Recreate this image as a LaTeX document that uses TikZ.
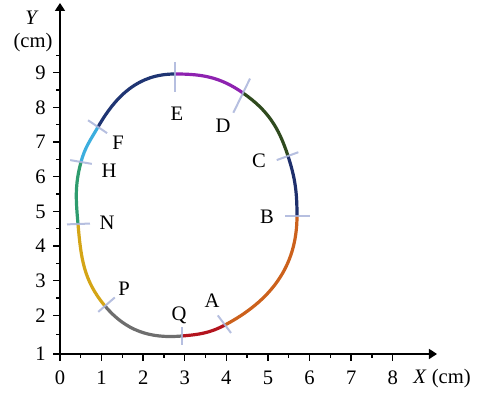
\documentclass[tikz,border=0pt]{standalone}
\usepackage{fontspec}
\setmainfont{Liberation Serif}
\usetikzlibrary{arrows.meta}
\definecolor{cQA}{HTML}{B3141E}
\definecolor{cAB}{HTML}{CC611C}
\definecolor{cBC}{HTML}{1E2F6C}
\definecolor{cCD}{HTML}{2F4A1E}
\definecolor{cDE}{HTML}{8E22B0}
\definecolor{cEF}{HTML}{1F3573}
\definecolor{cFH}{HTML}{3CAEDE}
\definecolor{cHN}{HTML}{2E9C6E}
\definecolor{cNP}{HTML}{D4A516}
\definecolor{cPQ}{HTML}{6E6E6E}
\definecolor{crosscol}{HTML}{A9B4DA}
\begin{document}
\begin{tikzpicture}[x=0.5pt,y=0.5pt,font=\fontsize{10.3}{12}\selectfont,
  axis/.style={line width=0.8pt,-{Triangle[length=4pt,width=5pt]}},
  tickline/.style={line width=0.7pt},
  seg/.style={line width=1.6pt},
  crossmark/.style={line width=1pt,crosscol,opacity=0.85},
  lab/.style={inner sep=0pt}]
\useasboundingbox (0,0) rectangle (479,394);
% axes
\coordinate (O) at (60,40);
\coordinate (Xend) at (437,40);
\coordinate (Yend) at (60,391);
\draw[axis] (O) -- (Xend);
\draw[axis] (O) -- (Yend);
% x ticks
\foreach \k in {0,...,8}{
  \draw[tickline] (60+41.6*\k,40) -- ++(0,-7);
  \node[lab] (xl\k) at (60+41.6*\k,16) {\k};
}
\foreach \k in {0,...,7}{
  \draw[tickline] (60+41.6*\k+20.8,40) -- ++(0,-4);
}
% y ticks
\draw[tickline] (60,40) -- ++(-7,0);
\node[lab,anchor=east] (yl1) at (46,40) {1};
\draw[tickline] (60,59.2) -- ++(-4,0);
\foreach \k in {2,...,9}{
  \draw[tickline] (60,78.5+34.7*\k-69.4) -- ++(-7,0);
  \draw[tickline] (60,78.5+34.7*\k-69.4+17.35) -- ++(-4,0);
  \node[lab,anchor=east] (yl\k) at (46,78.5+34.7*\k-69.4) {\k};
}
\node[lab] (ylab) at (32,376) {\textit{Y}};
\node[lab] (yunit) at (33,351) {(cm)};
\node[lab] (xlab) at (442,15) {\textit{X} (cm)};
% curve points
\coordinate (Q) at (182,58);
\coordinate (A) at (225,69);
\coordinate (B) at (297,178);
\coordinate (C) at (288,238);
\coordinate (D) at (243,301);
\coordinate (E) at (175,320);
\coordinate (F) at (98,267);
\coordinate (H) at (81,232);
\coordinate (N) at (78,170);
\coordinate (P) at (105,88);
% segments
\draw[seg,cQA] (Q) to[out=5,in=208] (A);
\draw[seg,cAB] (A) to[out=28,in=270] (B);
\draw[seg,cBC] (B) to[out=90,in=288] (C);
\draw[seg,cCD] (C) to[out=108,in=325] (D);
\draw[seg,cDE] (D) to[out=145,in=0] (E);
\draw[seg,cEF] (E) to[out=180,in=60] (F);
\draw[seg,cFH] (F) to[out=240,in=75] (H);
\draw[seg,cHN] (H) to[out=255,in=95] (N);
\draw[seg,cNP] (N) to[out=275,in=130] (P);
\draw[seg,cPQ] (P) to[out=310,in=185] (Q);
% crosses
\draw[crossmark] (E) ++(90:12) -- ++(270:30);
\draw[crossmark] (D) ++(64:16) -- ++(244:38);
\draw[crossmark] (C) ++(20:11) -- ++(200:23);
\draw[crossmark] (B) ++(0:13) -- ++(180:25);
\draw[crossmark] (A) ++(127:12) -- ++(307:22);
\draw[crossmark] (Q) ++(90:9) -- ++(270:18);
\draw[crossmark] (P) ++(41:13) -- ++(221:22);
\draw[crossmark] (N) ++(2:12) -- ++(182:23);
\draw[crossmark] (H) ++(350:11) -- ++(170:22);
\draw[crossmark] (F) ++(146:12) -- ++(326:23);
% labels
\node[lab] (lE) at (177,280) {E};
\node[lab] (lD) at (223,268) {D};
\node[lab] (lC) at (259,233) {C};
\node[lab] (lB) at (267,177) {B};
\node[lab] (lA) at (212,93) {A};
\node[lab] (lQ) at (179,79) {Q};
\node[lab] (lP) at (124,105) {P};
\node[lab] (lN) at (107,171) {N};
\node[lab] (lH) at (109,223) {H};
\node[lab] (lF) at (118,251) {F};
\end{tikzpicture}
\end{document}
